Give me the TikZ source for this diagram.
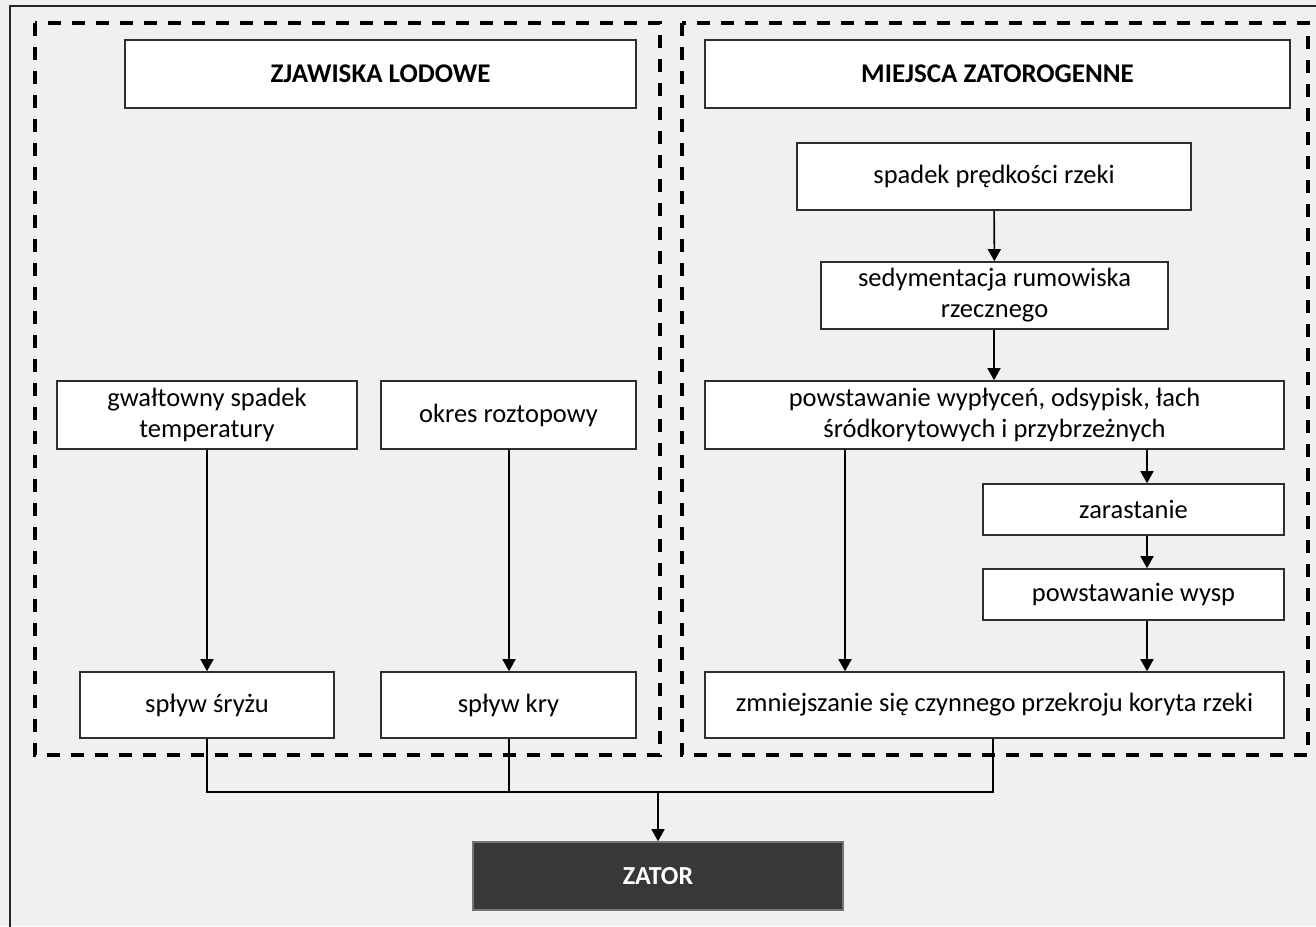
\documentclass[tikz,border=0pt]{standalone}
\usepackage{fontspec}
\setmainfont{Carlito}
\usetikzlibrary{arrows.meta,calc}
\definecolor{bg}{HTML}{F0F0F0}
\definecolor{edge}{HTML}{2E2E2E}
\definecolor{dark}{HTML}{383838}
\tikzset{
  box/.style={draw=edge, line width=1.6pt, fill=white, inner sep=0pt, align=center,
    font=\fontsize{26.5}{31}\selectfont},
  hdr/.style={box, font=\fontsize{27}{31}\selectfont\bfseries},
  zat/.style={box, fill=dark, draw=dark!70, text=white, font=\fontsize{26}{31}\selectfont\bfseries},
  arr/.style={line width=1.6pt, draw=black, -{Triangle[length=12pt,width=13pt]}},
  link/.style={line width=1.6pt, draw=black},
  group/.style={draw=black, line width=3.2pt, dash pattern=on 13pt off 11pt},
}
\begin{document}
\begin{tikzpicture}[x=1pt,y=-1pt]
\useasboundingbox (0,0) rectangle (1316,926);
\clip (0,0) rectangle (1316,926);
\fill[bg] (0,0) rectangle (1316,926);
\draw[line width=1.4pt, draw=black!85] (10,6) rectangle (1330,940);
% dashed groups
\draw[group] (35,23) rectangle (660,755);
\draw[group] (682,23) rectangle (1308,755);
% headers
\node[hdr, minimum width=511pt, minimum height=68pt] (hL) at (380.5,74) {ZJAWISKA LODOWE};
\node[hdr, minimum width=585pt, minimum height=68pt] (hR) at (997.5,74) {MIEJSCA ZATOROGENNE};
% right column
\node[box, minimum width=394pt, minimum height=67pt] (spadek) at (994,176.5) {spadek prędkości rzeki};
\node[box, minimum width=347pt, minimum height=67pt] (sedym) at (994.5,295.5) {sedymentacja rumowiska\\rzecznego};
\node[box, minimum width=579pt, minimum height=68pt] (powst) at (994.5,415) {powstawanie wypłyceń, odsypisk, łach\\śródkorytowych i przybrzeżnych};
\node[box, minimum width=301pt, minimum height=51pt] (zarast) at (1133.5,509.5) {zarastanie};
\node[box, minimum width=301pt, minimum height=51pt] (wysp) at (1133.5,594.5) {powstawanie wysp};
\node[box, minimum width=579pt, minimum height=66pt] (zmn) at (994.5,705) {zmniejszanie się czynnego przekroju koryta rzeki};
% left column
\node[box, minimum width=300pt, minimum height=68pt] (gwalt) at (207,415) {gwałtowny spadek\\temperatury};
\node[box, minimum width=255pt, minimum height=68pt] (okres) at (508.5,415) {okres roztopowy};
\node[box, minimum width=254pt, minimum height=66pt] (sryz) at (207,705) {spływ śryżu};
\node[box, minimum width=255pt, minimum height=66pt] (kry) at (508.5,705) {spływ kry};
% result
\node[zat, minimum width=370pt, minimum height=68pt] (zator) at (658,876) {ZATOR};
% helper coordinates
\coordinate (xa) at (845,0);
\coordinate (xb) at (1147,0);
\coordinate (xc) at (993,0);
\coordinate (xs) at (207,0);
\coordinate (xk) at (509,0);
\coordinate (bus) at (658,792);
% arrows
\draw[arr] (gwalt.south -| xs) -- (sryz.north -| xs);
\draw[arr] (okres.south -| xk) -- (kry.north -| xk);
\draw[arr] (spadek) -- (sedym);
\draw[arr] (sedym.south -| spadek.south) -- (powst.north -| spadek.south);
\draw[arr] (powst.south -| xa) -- (zmn.north -| xa);
\draw[arr] (powst.south -| xb) -- (zarast.north -| xb);
\draw[arr] (zarast.south -| xb) -- (wysp.north -| xb);
\draw[arr] (wysp.south -| xb) -- (zmn.north -| xb);
% merging lines
\draw[link] (sryz.south -| xs) -- (bus -| xs) -- (bus -| xc) -- (zmn.south -| xc);
\draw[link] (kry.south -| xk) -- (bus -| xk);
\draw[arr] (bus) -- (zator.north -| bus);
\end{tikzpicture}
\end{document}
